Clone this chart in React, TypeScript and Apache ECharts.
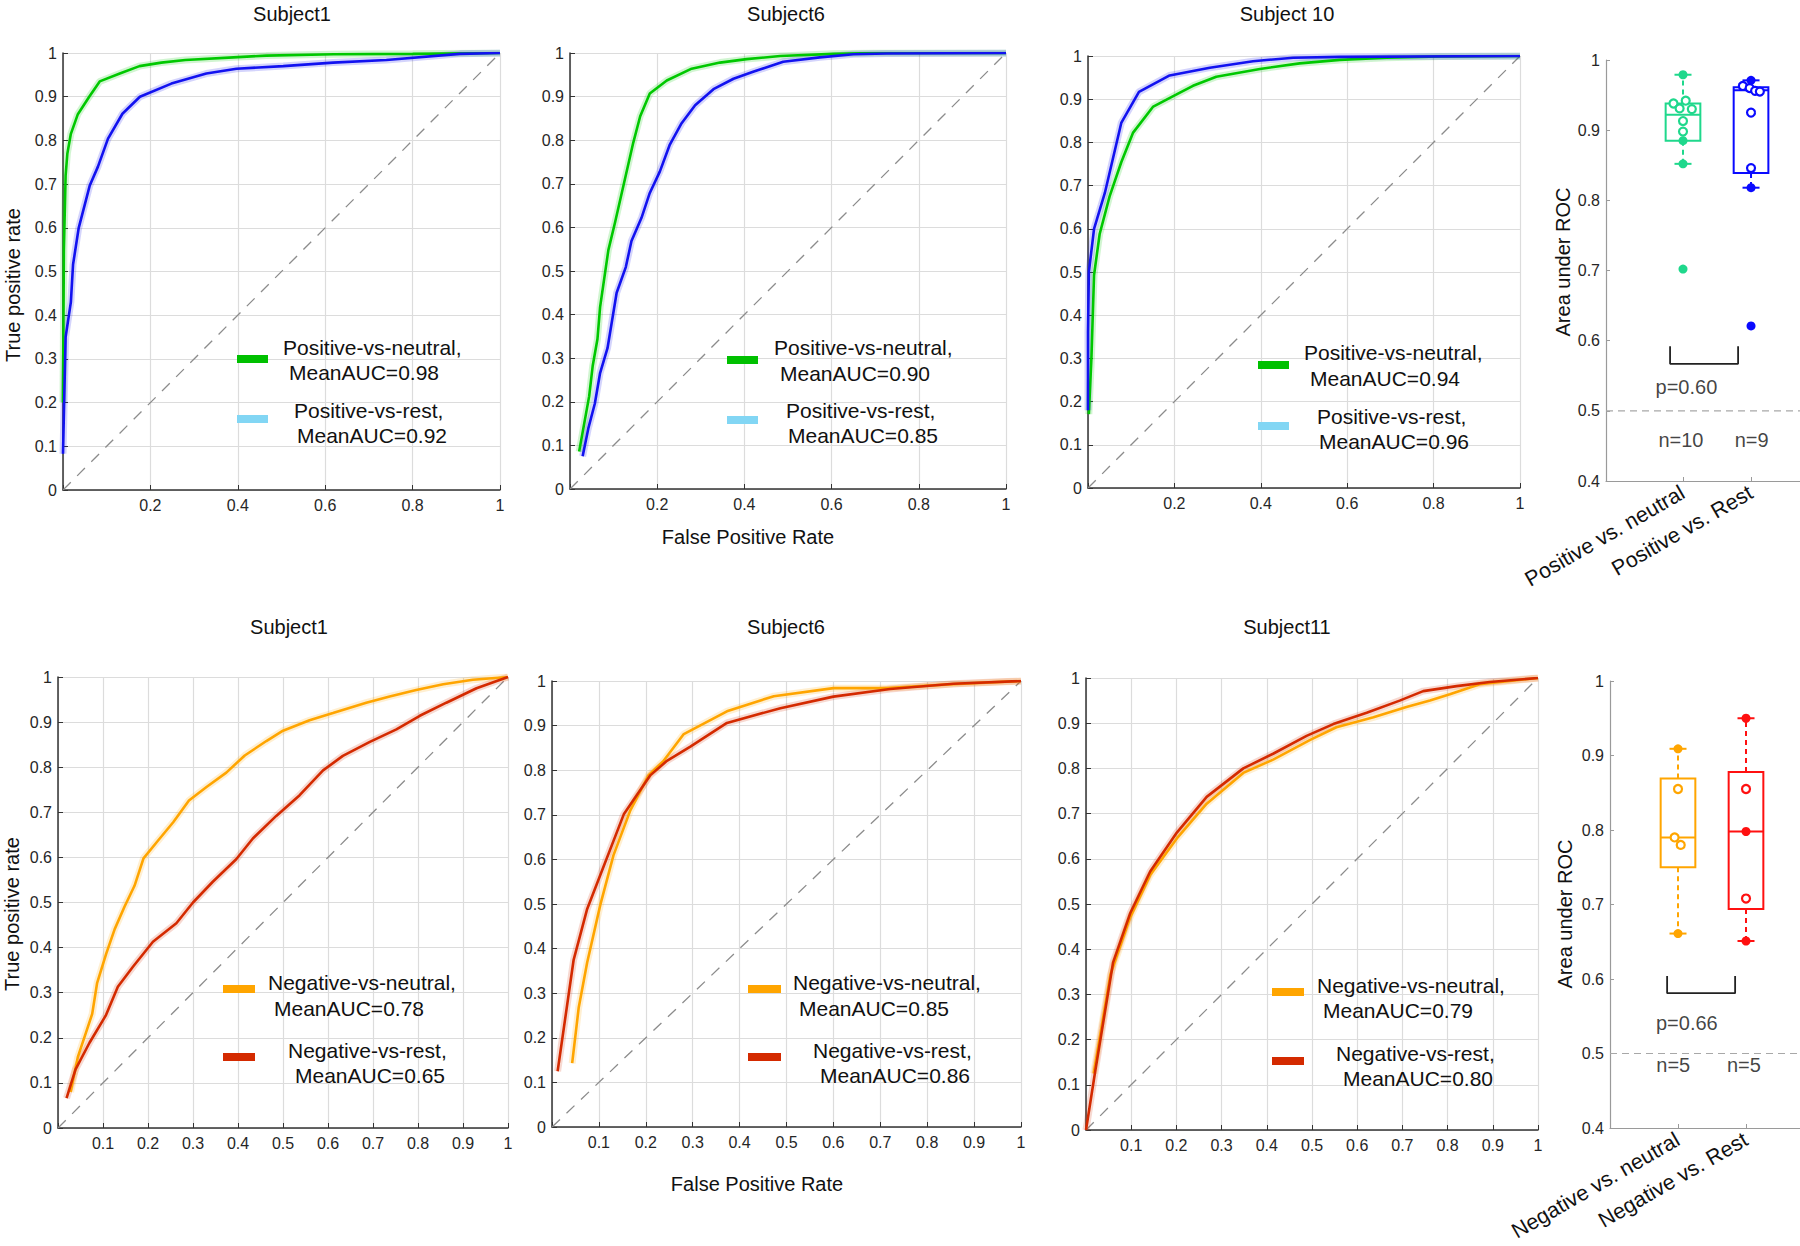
import React, { useEffect, useRef } from 'react';
import * as echarts from 'echarts';

const FONT = '"Liberation Sans", Arial, Helvetica, sans-serif';

// ---------- ROC curve data: [FPR, TPR] ----------
const s1PosNeutral = [[0,0.2],[0.002,0.55],[0.006,0.72],[0.01,0.77],[0.018,0.815],[0.034,0.86],[0.06,0.9],[0.084,0.935],[0.13,0.953],[0.175,0.97],[0.225,0.978],[0.28,0.984],[0.39,0.99],[0.465,0.994],[0.62,0.997],[0.8,0.998],[1,1]];
const s1PosRest = [[0,0.083],[0.006,0.35],[0.018,0.43],[0.023,0.516],[0.036,0.6],[0.061,0.696],[0.08,0.74],[0.103,0.804],[0.136,0.861],[0.176,0.9],[0.248,0.93],[0.328,0.953],[0.397,0.964],[0.504,0.97],[0.618,0.978],[0.74,0.984],[0.908,0.998],[1,1]];
const s6PosNeutral = [[0.021,0.086],[0.044,0.213],[0.052,0.282],[0.063,0.344],[0.069,0.417],[0.088,0.548],[0.103,0.61],[0.145,0.794],[0.161,0.855],[0.183,0.907],[0.222,0.937],[0.279,0.964],[0.344,0.978],[0.405,0.986],[0.482,0.993],[0.604,0.998],[0.7,1],[1,1]];
const s6PosRest = [[0.029,0.075],[0.042,0.139],[0.057,0.196],[0.069,0.266],[0.086,0.323],[0.107,0.45],[0.128,0.509],[0.141,0.569],[0.164,0.622],[0.183,0.679],[0.206,0.728],[0.229,0.79],[0.256,0.839],[0.287,0.88],[0.329,0.917],[0.375,0.941],[0.42,0.957],[0.489,0.98],[0.573,0.99],[0.65,0.997],[0.726,0.999],[1,1]];
const s10PosNeutral = [[0.002,0.171],[0.008,0.303],[0.014,0.493],[0.027,0.588],[0.05,0.675],[0.077,0.754],[0.104,0.822],[0.151,0.883],[0.205,0.911],[0.243,0.931],[0.297,0.952],[0.398,0.97],[0.49,0.983],[0.583,0.991],[0.691,0.996],[0.815,0.999],[1,1]];
const s10PosRest = [[0,0.18],[0,0.36],[0.002,0.5],[0.014,0.6],[0.039,0.683],[0.077,0.845],[0.118,0.917],[0.189,0.955],[0.282,0.973],[0.382,0.988],[0.475,0.996],[0.583,0.998],[1,1]];

const s1NegNeutral = [[0.028,0.08],[0.044,0.157],[0.076,0.253],[0.087,0.322],[0.107,0.386],[0.126,0.441],[0.148,0.491],[0.17,0.537],[0.19,0.598],[0.222,0.637],[0.256,0.678],[0.291,0.726],[0.33,0.756],[0.374,0.788],[0.415,0.826],[0.463,0.858],[0.5,0.881],[0.559,0.904],[0.611,0.92],[0.685,0.943],[0.737,0.957],[0.796,0.971],[0.856,0.984],[0.922,0.994],[1,1]];
const s1NegRest = [[0.019,0.066],[0.039,0.13],[0.07,0.189],[0.106,0.249],[0.133,0.313],[0.167,0.358],[0.211,0.413],[0.263,0.454],[0.3,0.5],[0.344,0.546],[0.396,0.596],[0.433,0.642],[0.485,0.692],[0.537,0.738],[0.589,0.793],[0.633,0.825],[0.693,0.856],[0.752,0.884],[0.804,0.914],[0.863,0.943],[0.93,0.975],[1,1]];
const s6NegNeutral = [[0.043,0.143],[0.057,0.268],[0.075,0.369],[0.103,0.498],[0.131,0.609],[0.167,0.71],[0.206,0.789],[0.238,0.821],[0.281,0.881],[0.373,0.932],[0.473,0.966],[0.6,0.984],[0.714,0.984],[0.856,0.993],[1,1]];
const s6NegRest = [[0.012,0.125],[0.046,0.374],[0.075,0.489],[0.103,0.565],[0.153,0.701],[0.21,0.789],[0.245,0.821],[0.295,0.853],[0.373,0.906],[0.487,0.939],[0.6,0.965],[0.721,0.982],[0.856,0.994],[1,1]];
const s11NegNeutral = [[0.017,0.125],[0.054,0.344],[0.098,0.471],[0.142,0.564],[0.201,0.645],[0.267,0.722],[0.348,0.79],[0.415,0.82],[0.496,0.863],[0.554,0.891],[0.636,0.913],[0.709,0.936],[0.761,0.95],[0.805,0.964],[0.871,0.986],[1,1]];
const s11NegRest = [[0,0],[0.021,0.134],[0.06,0.371],[0.098,0.48],[0.142,0.572],[0.201,0.658],[0.267,0.737],[0.348,0.8],[0.415,0.833],[0.488,0.872],[0.547,0.898],[0.621,0.923],[0.694,0.95],[0.746,0.971],[0.82,0.982],[0.893,0.991],[1,1]];

const panelTitles = ['Subject1', 'Subject6', 'Subject 10', 'Subject1', 'Subject6', 'Subject11'];
const topLegendNames = ['Positive-vs-neutral,', 'Positive-vs-rest,'];
const bottomLegendNames = ['Negative-vs-neutral,', 'Negative-vs-rest,'];
const meanAucTop = [[0.98, 0.92], [0.90, 0.85], [0.94, 0.96]];
const meanAucBottom = [[0.78, 0.65], [0.85, 0.86], [0.79, 0.80]];

// ---------- Box plot data ----------
const boxCategoriesTop = ['Positive vs. neutral', 'Positive vs. Rest'];
const boxCategoriesBottom = ['Negative vs. neutral', 'Negative vs. Rest'];
// [min whisker, q1, median, q3, max whisker]
const posNeutralBox = [0.852, 0.885, 0.922, 0.938, 0.979];
const posRestBox = [0.818, 0.839, 0.957, 0.961, 0.971];
const negNeutralBox = [0.661, 0.75, 0.79, 0.869, 0.909];
const negRestBox = [0.651, 0.694, 0.798, 0.878, 0.95];
const posNeutralAuc = [0.979, 0.938, 0.931, 0.942, 0.93, 0.913, 0.898, 0.885, 0.852, 0.702];
const posNeutralJitter = [0, -0.14, -0.05, 0.04, 0.13, 0, 0, 0, 0, 0];
const posNeutralFilled = [1, 0, 0, 0, 0, 0, 0, 1, 1, 1];
const posRestAuc = [0.971, 0.963, 0.96, 0.956, 0.955, 0.925, 0.846, 0.818, 0.621];
const posRestJitter = [0, -0.12, -0.02, 0.06, 0.13, 0, 0, 0, 0];
const posRestFilled = [1, 0, 0, 0, 0, 0, 0, 1, 1];
const negNeutralAuc = [0.909, 0.855, 0.79, 0.78, 0.661];
const negNeutralJitter = [0, 0, -0.05, 0.04, 0];
const negNeutralFilled = [1, 0, 0, 0, 1];
const negRestAuc = [0.95, 0.855, 0.798, 0.708, 0.651];
const negRestJitter = [0, 0, 0, 0, 0];
const negRestFilled = [1, 0, 1, 0, 1];
const pValues = ['p=0.60', 'p=0.66'];
const nCountsTop = ['n=10', 'n=9'];
const nCountsBottom = ['n=5', 'n=5'];

// ---------- Colors ----------
const GREEN = '#00c800';
const BLUE = '#1212f0';
const ORANGE = '#ffa500';
const RED = '#d42a00';
const SW_GREEN = '#00c000';
const SW_LIGHTBLUE = '#82d6f4';
const SW_ORANGE = '#ffa500';
const SW_RED = '#d42a00';
const BOX_GREEN = '#1fd88c';
const BOX_BLUE = '#0a0aff';
const BOX_ORANGE = '#ffa500';
const BOX_RED = '#ff1010';

// ---------- Layout ----------
const rocGrids = [
  { left: 63, top: 53, width: 437, height: 437, xInt: 0.2 },
  { left: 570, top: 53, width: 436, height: 436, xInt: 0.2 },
  { left: 1088, top: 56, width: 432, height: 432, xInt: 0.2 },
  { left: 58, top: 677, width: 450, height: 451, xInt: 0.1 },
  { left: 552, top: 681, width: 469, height: 446, xInt: 0.1 },
  { left: 1086, top: 678, width: 452, height: 452, xInt: 0.1 },
];
const boxGrids = [
  { left: 1606, top: 60, width: 194, height: 421, xMin: -0.132, xMax: 2.72 },
  { left: 1610, top: 681, width: 190, height: 447, xMin: 0, xMax: 2.794 },
];
const titlePos = [[292, 14], [786, 14], [1287, 14], [289, 627], [786, 627], [1287, 627]];
const legendLayout = [
  { sw: [237, 268], sy: [359, 419], t: [[283, 347], [289, 372], [294, 410], [297, 435]] },
  { sw: [727, 758], sy: [360, 420], t: [[774, 347], [780, 373], [786, 410], [788, 435]] },
  { sw: [1258, 1289], sy: [365, 426], t: [[1304, 352], [1310, 378], [1317, 416], [1319, 441]] },
  { sw: [223, 255], sy: [989, 1057], t: [[268, 982], [274, 1008], [288, 1050], [295, 1075]] },
  { sw: [748, 781], sy: [989, 1057], t: [[793, 982], [799, 1008], [813, 1050], [820, 1075]] },
  { sw: [1272, 1304], sy: [992, 1061], t: [[1317, 985], [1323, 1010], [1336, 1053], [1343, 1078]] },
];

const fmt1 = (v: number) => String(+v.toFixed(2));

function boxRender(color: string) {
  return (params: any, api: any) => {
    const x = api.value(0);
    const mn = api.value(1), q1 = api.value(2), md = api.value(3), q3 = api.value(4), mx = api.value(5);
    const c = (v: number) => api.coord([x, v]);
    const half = api.size([0.255, 0])[0];
    const cap = api.size([0.125, 0])[0];
    const pMin = c(mn), pQ1 = c(q1), pMd = c(md), pQ3 = c(q3), pMx = c(mx);
    const cx = pMd[0];
    const lw = 2;
    return {
      type: 'group',
      children: [
        { type: 'line', shape: { x1: cx, y1: pQ3[1], x2: cx, y2: pMx[1] }, style: { stroke: color, lineWidth: lw, lineDash: [5, 4] } },
        { type: 'line', shape: { x1: cx, y1: pQ1[1], x2: cx, y2: pMin[1] }, style: { stroke: color, lineWidth: lw, lineDash: [5, 4] } },
        { type: 'line', shape: { x1: cx - cap, y1: pMx[1], x2: cx + cap, y2: pMx[1] }, style: { stroke: color, lineWidth: lw } },
        { type: 'line', shape: { x1: cx - cap, y1: pMin[1], x2: cx + cap, y2: pMin[1] }, style: { stroke: color, lineWidth: lw } },
        { type: 'rect', shape: { x: cx - half, y: pQ3[1], width: 2 * half, height: pQ1[1] - pQ3[1] }, style: { stroke: color, fill: 'none', lineWidth: lw } },
        { type: 'line', shape: { x1: cx - half, y1: pMd[1], x2: cx + half, y2: pMd[1] }, style: { stroke: color, lineWidth: lw } },
      ],
    };
  };
}

function buildOption() {
  const grid: any[] = [];
  const xAxis: any[] = [];
  const yAxis: any[] = [];
  const series: any[] = [];
  const graphic: any[] = [];

  const rocCurves = [
    [[s1PosNeutral, GREEN], [s1PosRest, BLUE]],
    [[s6PosNeutral, GREEN], [s6PosRest, BLUE]],
    [[s10PosNeutral, GREEN], [s10PosRest, BLUE]],
    [[s1NegNeutral, ORANGE], [s1NegRest, RED]],
    [[s6NegNeutral, ORANGE], [s6NegRest, RED]],
    [[s11NegNeutral, ORANGE], [s11NegRest, RED]],
  ];

  rocGrids.forEach((g, i) => {
    grid.push({ left: g.left, top: g.top, width: g.width, height: g.height, outerBoundsMode: 'none' });
    xAxis.push({
      type: 'value', gridIndex: i, min: 0, max: 1, interval: g.xInt,
      axisLine: { show: true, onZero: false, lineStyle: { color: '#333', width: 1.5 } },
      axisTick: { show: true, inside: true, length: 5, lineStyle: { color: '#333' } },
      splitLine: { show: true, lineStyle: { color: '#dcdcdc', width: 1.2 } },
      axisLabel: { color: '#262626', fontSize: 16, fontFamily: FONT, margin: 7, formatter: (v: number) => (v === 0 ? '' : fmt1(v)) },
    });
    yAxis.push({
      type: 'value', gridIndex: i, min: 0, max: 1, interval: 0.1,
      axisLine: { show: true, onZero: false, lineStyle: { color: '#333', width: 1.5 } },
      axisTick: { show: true, inside: true, length: 5, lineStyle: { color: '#333' } },
      splitLine: { show: true, lineStyle: { color: '#dcdcdc', width: 1.2 } },
      axisLabel: { color: '#262626', fontSize: 16, fontFamily: FONT, margin: 6, formatter: fmt1 },
    });
    series.push({
      type: 'line', xAxisIndex: i, yAxisIndex: i, data: [[0, 0], [1, 1]], showSymbol: false, symbol: 'none', silent: true,
      lineStyle: { color: '#8c8c8c', width: 1.3, type: [11, 9] }, z: 2,
    });
    rocCurves[i].forEach(([data, color]: any) => {
      series.push({
        type: 'line', xAxisIndex: i, yAxisIndex: i, data, showSymbol: false, symbol: 'none', silent: true,
        lineStyle: { color, width: 7, opacity: 0.18 }, z: 3,
      });
      series.push({
        type: 'line', xAxisIndex: i, yAxisIndex: i, data, showSymbol: false, symbol: 'none', silent: true,
        lineStyle: { color, width: 2.6 }, z: 4,
      });
    });
  });

  // box plot grids
  const boxSets = [
    { cats: boxCategoriesTop, boxes: [[posNeutralBox, BOX_GREEN, posNeutralAuc, posNeutralJitter, posNeutralFilled], [posRestBox, BOX_BLUE, posRestAuc, posRestJitter, posRestFilled]], p: pValues[0], pPos: [1.05, 0.534], n: nCountsTop, nPos: [[0.97, 0.459], [2.01, 0.459]], br: [0.81, 1.81, 0.567, 0.592] },
    { cats: boxCategoriesBottom, boxes: [[negNeutralBox, BOX_ORANGE, negNeutralAuc, negNeutralJitter, negNeutralFilled], [negRestBox, BOX_RED, negRestAuc, negRestJitter, negRestFilled]], p: pValues[1], pPos: [1.13, 0.541], n: nCountsBottom, nPos: [[0.93, 0.485], [1.97, 0.485]], br: [0.84, 1.84, 0.581, 0.604] },
  ];

  boxGrids.forEach((g, k) => {
    const gi = rocGrids.length + k;
    const set = boxSets[k];
    grid.push({ left: g.left, top: g.top, width: g.width, height: g.height, outerBoundsMode: 'none' });
    xAxis.push({
      type: 'value', gridIndex: gi, min: g.xMin, max: g.xMax,
      axisLine: { show: true, onZero: false, lineStyle: { color: '#9a9a9a', width: 1.2 } },
      axisTick: { show: true, inside: true, length: 4, customValues: [1, 2], lineStyle: { color: '#9a9a9a' } },
      splitLine: { show: false },
      axisLabel: {
        customValues: [1, 2], rotate: 30, margin: 10, color: '#111', fontSize: 21.5, fontFamily: FONT,
        formatter: (v: number) => (Math.abs(v - 1) < 1e-6 ? set.cats[0] : Math.abs(v - 2) < 1e-6 ? set.cats[1] : ''),
      },
    });
    yAxis.push({
      type: 'value', gridIndex: gi, min: 0.4, max: 1, interval: 0.1,
      axisLine: { show: true, onZero: false, lineStyle: { color: '#9a9a9a', width: 1.2 } },
      axisTick: { show: true, inside: true, length: 4, lineStyle: { color: '#9a9a9a' } },
      splitLine: { show: false },
      axisLabel: { color: '#262626', fontSize: 16, fontFamily: FONT, margin: 6, formatter: fmt1 },
    });
    // chance line
    series.push({
      type: 'line', xAxisIndex: gi, yAxisIndex: gi, data: [[g.xMin, 0.5], [g.xMax, 0.5]], showSymbol: false, symbol: 'none', silent: true,
      lineStyle: { color: '#a8a8a8', width: 1.2, type: [7, 5] }, z: 2,
    });
    // bracket
    const [bx1, bx2, by1, by2] = set.br;
    series.push({
      type: 'line', xAxisIndex: gi, yAxisIndex: gi, data: [[bx1, by2], [bx1, by1], [bx2, by1], [bx2, by2]], showSymbol: false, symbol: 'none', silent: true,
      lineStyle: { color: '#222', width: 1.8 }, z: 3,
    });
    set.boxes.forEach(([stats, color, auc, jit, filled]: any, j: number) => {
      const cx = j + 1;
      series.push({
        type: 'custom', xAxisIndex: gi, yAxisIndex: gi, silent: true, z: 4,
        renderItem: boxRender(color),
        data: [[cx, ...stats]],
        encode: { x: 0, y: [1, 2, 3, 4, 5] },
      });
      const filledPts: any[] = [];
      const openPts: any[] = [];
      auc.forEach((v: number, m: number) => {
        const pt = [cx + jit[m], v];
        if (filled[m]) filledPts.push(pt); else openPts.push(pt);
      });
      series.push({
        type: 'scatter', xAxisIndex: gi, yAxisIndex: gi, data: filledPts, symbol: 'circle', symbolSize: 9, silent: true, z: 6,
        itemStyle: { color, opacity: 1 },
      });
      series.push({
        type: 'scatter', xAxisIndex: gi, yAxisIndex: gi, data: openPts, symbol: 'circle', symbolSize: 8, silent: true, z: 6,
        itemStyle: { color: '#fff', borderColor: color, borderWidth: 2.2, opacity: 1 },
      });
    });
    // annotations
    const ann = [
      { value: set.pPos, text: set.p },
      { value: set.nPos[0], text: set.n[0] },
      { value: set.nPos[1], text: set.n[1] },
    ];
    series.push({
      type: 'scatter', xAxisIndex: gi, yAxisIndex: gi, data: ann, symbolSize: 0, silent: true, z: 7,
      itemStyle: { color: 'transparent' },
      label: { show: true, position: 'inside', formatter: (p: any) => p.data.text, color: '#111', fontSize: 20, fontFamily: FONT },
    });
  });

  // titles
  panelTitles.forEach((t, i) => {
    graphic.push({ type: 'text', z: 100, x: titlePos[i][0], y: titlePos[i][1], style: { text: t, fill: '#111', fontSize: 20, fontFamily: FONT, textAlign: 'center', textVerticalAlign: 'middle' } });
  });
  // axis names
  const axisNames = [
    { t: 'False Positive Rate', x: 748, y: 537, r: 0 },
    { t: 'False Positive Rate', x: 757, y: 1184, r: 0 },
    { t: 'True positive rate', x: 13, y: 285, r: Math.PI / 2 },
    { t: 'True positive rate', x: 12, y: 914, r: Math.PI / 2 },
    { t: 'Area under ROC', x: 1563, y: 262, r: Math.PI / 2 },
    { t: 'Area under ROC', x: 1565, y: 914, r: Math.PI / 2 },
  ];
  axisNames.forEach((a) => {
    graphic.push({ type: 'text', z: 100, x: a.x, y: a.y, rotation: a.r, style: { text: a.t, fill: '#111', fontSize: 20, fontFamily: FONT, textAlign: 'center', textVerticalAlign: 'middle' } });
  });
  // legends
  legendLayout.forEach((L, i) => {
    const top = i < 3;
    const names = top ? topLegendNames : bottomLegendNames;
    const aucs = top ? meanAucTop[i] : meanAucBottom[i - 3];
    const sw = top ? [SW_GREEN, SW_LIGHTBLUE] : [SW_ORANGE, SW_RED];
    [0, 1].forEach((e) => {
      graphic.push({ type: 'rect', z: 100, shape: { x: L.sw[0], y: L.sy[e] - 4, width: L.sw[1] - L.sw[0], height: 8 }, style: { fill: sw[e] } });
      graphic.push({ type: 'text', z: 100, x: L.t[e * 2][0], y: L.t[e * 2][1], style: { text: names[e], fill: '#111', fontSize: 21, fontFamily: FONT, textAlign: 'left', textVerticalAlign: 'middle' } });
      graphic.push({ type: 'text', z: 100, x: L.t[e * 2 + 1][0], y: L.t[e * 2 + 1][1], style: { text: 'MeanAUC=' + aucs[e].toFixed(2), fill: '#111', fontSize: 21, fontFamily: FONT, textAlign: 'left', textVerticalAlign: 'middle' } });
    });
  });

  return { animation: false, backgroundColor: '#fff', grid, xAxis, yAxis, series, graphic };
}

export default function App() {
  const ref = useRef<HTMLDivElement>(null);
  useEffect(() => {
    const chart = echarts.init(ref.current as HTMLDivElement, null, { renderer: 'svg' });
    chart.setOption(buildOption() as any);
    return () => chart.dispose();
  }, []);
  return <div ref={ref} style={{ position: 'absolute', left: 0, top: 0, width: 1800, height: 1246, background: '#fff' }} />;
}
